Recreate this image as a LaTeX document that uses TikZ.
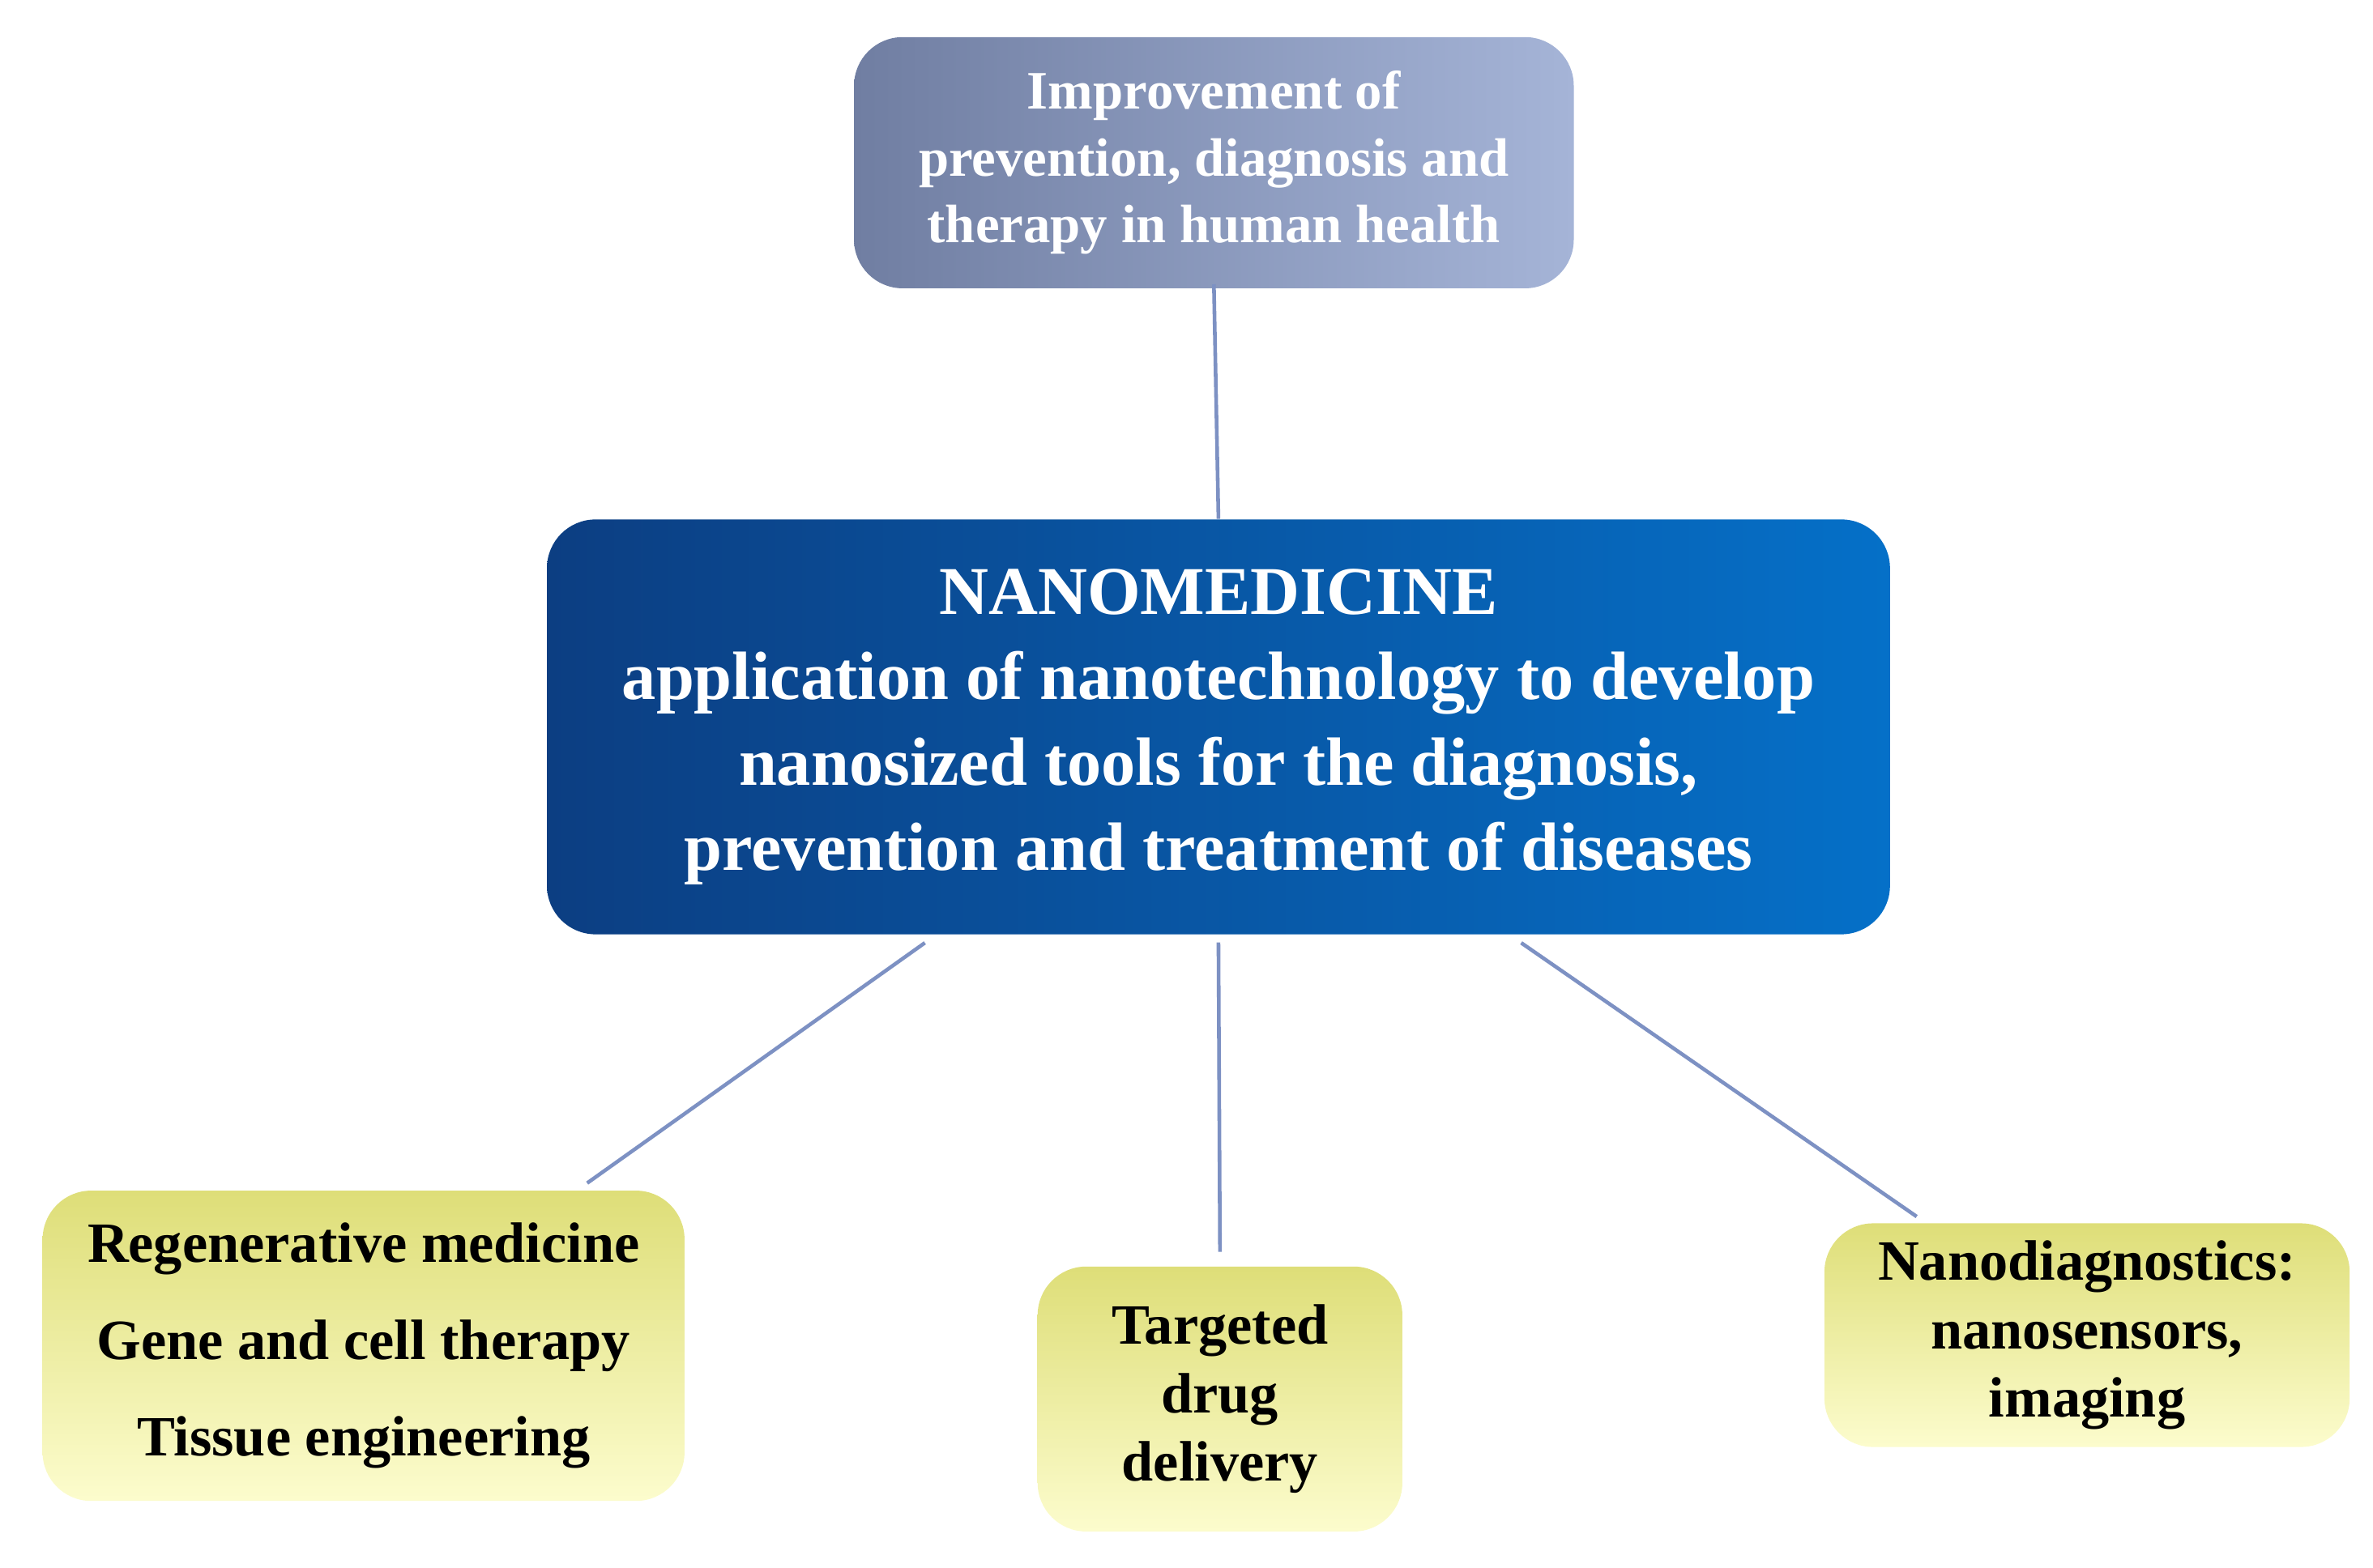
\documentclass[tikz,border=0pt]{standalone}
\usepackage{fontspec}
\setmainfont{Liberation Serif}
\usetikzlibrary{positioning}

\begin{document}
\begin{tikzpicture}[x=0.01877cm, y=-0.01877cm,
    box/.style={rectangle, rounded corners=0.6cm, align=center, inner sep=2pt},
    goal/.style={box, minimum width=8.88cm, minimum height=3.10cm, left color=goalA, right color=goalB,
                 text=white, font=\fontsize{19}{23.5}\selectfont\bfseries},
    core/.style={box, minimum width=16.57cm, minimum height=5.12cm, left color=coreA, right color=coreB,
                 text=white, font=\fontsize{24}{30}\selectfont\bfseries},
    field/.style={box, top color=fieldA, bottom color=fieldB, text=black,
                  font=\fontsize{20}{24}\selectfont\bfseries},
    link/.style={draw=linkc, line width=1.3pt}
]
    \definecolor{goalA}{RGB}{112,126,162}
    \definecolor{goalB}{RGB}{165,180,215}
    \definecolor{coreA}{RGB}{12,62,130}
    \definecolor{coreB}{RGB}{5,112,200}
    \definecolor{fieldA}{RGB}{222,222,120}
    \definecolor{fieldB}{RGB}{252,252,205}
    \definecolor{linkc}{RGB}{125,145,195}
    \useasboundingbox (0,0) rectangle (1560,1031);

    % Top and centre
    \node[goal] (goal) at (798,107) {Improvement of\\prevention, diagnosis and\\therapy in human health};
    \node[core] (nano) at (801,478) {NANOMEDICINE\\application of nanotechnology to develop\\nanosized tools for the diagnosis,\\prevention and treatment of diseases};

    % Bottom row
    \node[field, minimum width=7.92cm, minimum height=3.83cm] (regen) at (239,885)
        {Regenerative medicine\\[10pt]Gene and cell therapy\\[10pt]Tissue engineering};
    \node[field, minimum width=4.50cm, minimum height=3.27cm] (drug) at (802,920)
        {Targeted\\drug\\delivery};
    \node[field, minimum width=6.48cm, minimum height=2.76cm] (diag) at (1372,878)
        {Nanodiagnostics:\\nanosensors,\\imaging};

    % Links
    \coordinate (nl) at (608,620);
    \coordinate (nr) at (1000,620);
    \coordinate (rl) at (386,778);
    \coordinate (dr) at (1260,800);
    \draw[link] (goal.south) ++(0,-3) -- (nano.north);
    \draw[link] (nl) -- (rl);
    \draw[link] (nano.south) ++(0,5) -- ([yshift=5]drug.north);
    \draw[link] (nr) -- (dr);
\end{tikzpicture}
\end{document}
